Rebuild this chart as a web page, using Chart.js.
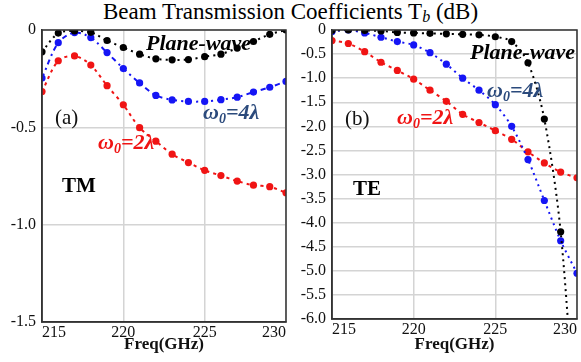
<!DOCTYPE html>
<html>
<head>
<meta charset="utf-8">
<script src="https://cdn.jsdelivr.net/npm/chart.js@4.4.0/dist/chart.umd.min.js"></script>
<style>
  body { margin: 0; background: #fff; }
  #wrap { position: relative; width: 581px; height: 362px; overflow: hidden; font-family: "Liberation Serif", "DejaVu Serif", serif; }
  .panel { position: absolute; top: 0; }
  .lbl { position: absolute; white-space: nowrap; transform: translateY(-50%); line-height: 1; }
  .curve { font-weight: bold; font-style: italic; font-size: 22px; }
  .curve sub { font-size: 14px; vertical-align: -4px; }
  #title { position: absolute; left: 0; top: 0; width: 581px; text-align: center; font-size: 23px; line-height: 24px; color: #000; }
  #title sub { font-size: 16px; font-style: italic; vertical-align: -3px; line-height: 0; }
</style>
</head>
<body>
<div id="wrap">
  <div id="title">Beam Transmission Coefficients T<sub>b</sub> (dB)</div>
  <canvas id="tm" class="panel" width="290" height="362" style="left:0"></canvas>
  <canvas id="te" class="panel" width="291" height="362" style="left:290px"></canvas>

  <div class="lbl curve" style="left:146px;top:43px;color:#000">Plane-wave</div>
  <div class="lbl curve" style="left:203px;top:113px;color:#2b4a7c">&omega;<sub>0</sub>=4&lambda;</div>
  <div class="lbl curve" style="left:98px;top:143px;color:#f01414">&omega;<sub>0</sub>=2&lambda;</div>
  <div class="lbl" style="left:55px;top:117px;font-size:21px;color:#111">(a)</div>
  <div class="lbl" style="left:62px;top:185px;font-size:21px;font-weight:bold;color:#000">TM</div>

  <div class="lbl curve" style="left:470px;top:52px;color:#000">Plane-wave</div>
  <div class="lbl curve" style="left:487px;top:91px;color:#2b4a7c">&omega;<sub>0</sub>=4&lambda;</div>
  <div class="lbl curve" style="left:397px;top:118px;color:#f01414">&omega;<sub>0</sub>=2&lambda;</div>
  <div class="lbl" style="left:345px;top:118px;font-size:21px;color:#111">(b)</div>
  <div class="lbl" style="left:353px;top:188px;font-size:21px;font-weight:bold;color:#000">TE</div>
</div>
<script>
// frequencies (GHz)
const freq = [215, 216, 217, 218, 219, 220, 221, 222, 223, 224, 225, 226, 227, 228, 229, 230];

// (a) TM
const tmPlane = [-0.112, -0.016, -0.005, -0.012, -0.054, -0.09, -0.124, -0.148, -0.153, -0.152, -0.137, -0.124, -0.093, -0.059, -0.022, 0];
const tmBeam4 = [-0.247, -0.065, -0.013, -0.039, -0.116, -0.198, -0.272, -0.336, -0.359, -0.367, -0.367, -0.358, -0.345, -0.319, -0.294, -0.264];
const tmBeam2 = [-0.316, -0.158, -0.133, -0.18, -0.286, -0.384, -0.502, -0.571, -0.638, -0.681, -0.721, -0.748, -0.776, -0.797, -0.805, -0.836];

// (b) TE
const tePlane = [-0.01, 0, -0.01, -0.02, -0.05, -0.06, -0.07, -0.08, -0.09, -0.1, -0.14, -0.24, -0.68, -1.85, -4.19, -8.8];
const teBeam4 = [-0.03, 0, -0.06, -0.15, -0.24, -0.31, -0.47, -0.71, -1.0, -1.25, -1.55, -2.0, -2.69, -3.54, -4.375, -5.05];
const teBeam2 = [-0.22, -0.28, -0.45, -0.67, -0.84, -1.02, -1.25, -1.48, -1.75, -1.92, -2.09, -2.27, -2.53, -2.76, -2.95, -3.07];

const xTicks = [215, 220, 225, 230];

// draws the box round the plot area
const frame = {
  id: 'frame',
  afterDatasetsDraw(chart) {
    const a = chart.chartArea, ctx = chart.ctx;
    ctx.save();
    ctx.strokeStyle = '#333';
    ctx.lineWidth = 1.5;
    ctx.strokeRect(a.left, a.top, a.right - a.left, a.bottom - a.top);
    ctx.restore();
  }
};

function series(ys, color, dash) {
  return {
    data: freq.map((f, i) => ({ x: f, y: ys[i] })),
    borderColor: color,
    backgroundColor: color,
    borderWidth: 2,
    borderDash: dash,
    pointRadius: 3.6,
    pointBorderWidth: 0,
    tension: 0.3
  };
}

function makePanel(id, sets, yMin, padRight, bottomH) {
  new Chart(document.getElementById(id), {
    type: 'line',
    data: { datasets: sets },
    options: {
      responsive: false,
      animation: false,
      layout: { padding: { top: 30, right: padRight, left: 0, bottom: 0 } },
      plugins: { legend: { display: false }, tooltip: { enabled: false } },
      scales: {
        x: {
          type: 'linear', min: 215, max: 230,
          afterBuildTicks: s => { s.ticks = xTicks.map(v => ({ value: v })); },
          afterFit: s => { s.height = bottomH; },
          grid: { color: '#d4d4d4', lineWidth: 1.5, drawTicks: false },
          border: { color: '#333', width: 1.5 },
          ticks: { color: '#111', padding: 1, align: 'inner', maxRotation: 0, font: { family: 'Liberation Serif', size: 16 } },
          title: {
            display: true, text: 'Freq(GHz)', color: '#111',
            padding: { top: 0, bottom: 7 },
            font: { family: 'Liberation Serif', size: 17, weight: 'bold' }
          }
        },
        y: {
          min: yMin, max: 0,
          afterFit: s => { s.width = 42; },
          grid: { color: '#d4d4d4', lineWidth: 1.5, drawTicks: false },
          border: { color: '#333', width: 1.5 },
          ticks: {
            stepSize: 0.5, autoSkip: false, color: '#111', padding: 6,
            font: { family: 'Liberation Serif', size: 16 },
            callback: v => v === 0 ? '0' : v.toFixed(1)
          }
        }
      }
    },
    plugins: [frame]
  });
}

makePanel('tm', [
  series(tmPlane, '#000000', [2, 4]),
  series(tmBeam4, '#1515f5', [5, 4, 2, 4]),
  series(tmBeam2, '#f01414', [3, 4])
], -1.5, 2, 40);

makePanel('te', [
  series(tePlane, '#000000', [2, 4]),
  series(teBeam4, '#1515f5', [2, 4]),
  series(teBeam2, '#f01414', [3, 4])
], -6, 3, 43);
</script>
</body>
</html>
